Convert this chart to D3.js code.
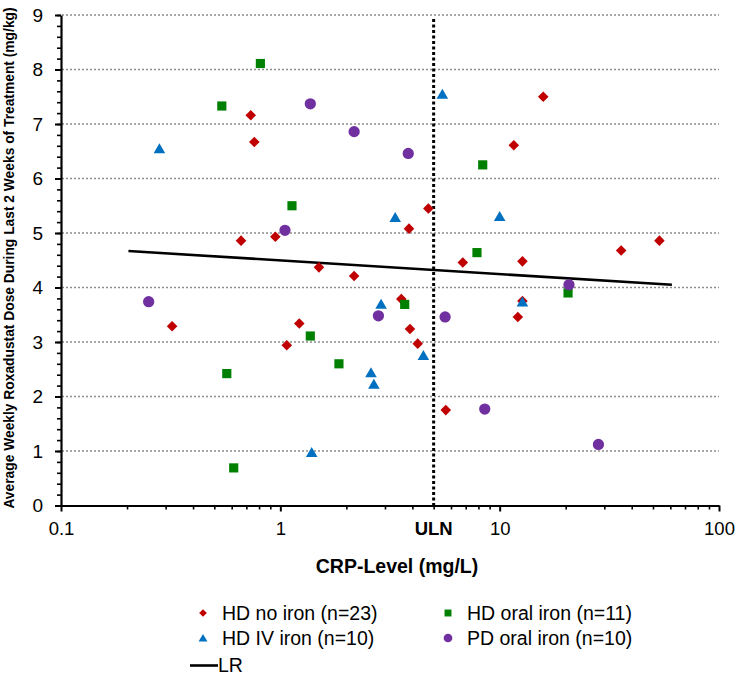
<!DOCTYPE html>
<html><head><meta charset="utf-8">
<script src="https://cdn.jsdelivr.net/npm/d3@7"></script>
<style>body{margin:0;background:#fff}svg{display:block;font-family:Arial,"Liberation Sans",sans-serif}</style>
</head><body><svg id="c" width="737" height="675"></svg>
<script>
// ---- data ----
const hdNoIronX = [0.733,0.761,0.662,0.949,0.321,1.07,1.22,1.50,2.17,4.73,3.86,15.8,11.6,35.8,53.5,3.56,3.90,4.23,5.68,12.1,12.7,6.79,12.7];
const hdNoIronY = [7.16,6.67,4.86,4.93,3.29,2.94,3.34,4.37,4.21,5.45,5.08,7.50,6.61,4.68,4.86,3.79,3.24,2.97,1.75,3.46,3.75,4.46,4.48];
const hdOralX = [0.541,0.811,1.13,0.570,0.613,1.37,1.85,8.37,7.88,3.69,20.5];
const hdOralY = [7.33,8.11,5.50,2.42,0.69,3.11,2.60,6.25,4.64,3.69,3.90];
const hdIVX = [0.281,5.48,3.34,10.0,1.39,2.88,4.49,2.59,2.67,12.7];
const hdIVY = [6.55,7.55,5.29,5.31,0.98,3.70,2.76,2.44,2.23,3.74];
const pdOralX = [1.37,2.17,1.05,0.251,3.83,2.80,5.64,8.55,28.2,20.7];
const pdOralY = [7.37,6.86,5.05,3.74,6.46,3.48,3.46,1.77,1.12,4.05];
const lrX = [0.203, 61.0];
const lrY = [4.67, 4.05];
const ulnValue = 5;
const xTickValues = [0.1, 1, 10, 100];
const xTickLabels = ["0.1", "1", "10", "100"];
const yTickValues = [0,1,2,3,4,5,6,7,8,9];
const seriesNames = ["HD no iron (n=23)", "HD oral iron (n=11)", "HD IV iron (n=10)", "PD oral iron (n=10)"];
const yTitle = "Average Weekly Roxadustat Dose During Last 2 Weeks of Treatment  (mg/kg)";
const xTitle = "CRP-Level (mg/L)";

// ---- chart ----
const FONT = "Arial,'Liberation Sans',sans-serif";
const svg = d3.select("#c");
const x = d3.scaleLog().domain([0.1, 100]).range([61, 719]);
const y = d3.scaleLinear().domain([0, 9]).range([505.5, 15]);

// gridlines
svg.append("g").selectAll("line").data(yTickValues.filter(v => v > 0)).join("line")
  .attr("x1", 62).attr("x2", 719).attr("y1", d => y(d)).attr("y2", d => y(d))
  .attr("stroke", "#8c8c8c").attr("stroke-width", 1.6).attr("stroke-dasharray", "2,2");

// ULN line
svg.append("line").attr("x1", x(ulnValue)).attr("x2", x(ulnValue))
  .attr("y1", y(9) + 4).attr("y2", y(0))
  .attr("stroke", "#000").attr("stroke-width", 3).attr("stroke-dasharray", "3,2.5");

// y axis minor ticks
const minorY = d3.range(0, 9.001, 0.2).map(v => +v.toFixed(1));
svg.append("g").attr("transform", "translate(61,0)")
  .call(d3.axisLeft(y).tickValues(minorY).tickSize(4).tickSizeOuter(0).tickFormat(""))
  .call(g => g.select(".domain").remove())
  .call(g => g.selectAll("line").attr("stroke", "#000").attr("stroke-width", 1.6));
// y axis major
svg.append("g").attr("transform", "translate(61,0)")
  .call(d3.axisLeft(y).tickValues(yTickValues).tickSize(6).tickSizeOuter(0).tickPadding(12).tickFormat(d3.format("d")))
  .call(g => g.select(".domain").attr("stroke", "#000").attr("stroke-width", 2.2))
  .call(g => g.selectAll("line").attr("stroke", "#000").attr("stroke-width", 2))
  .call(g => g.selectAll("text").attr("font-size", 19).attr("fill", "#000").attr("font-family", FONT));

// x axis minor ticks
const minorX = [];
[0.1, 1, 10].forEach(dec => { for (let k = 2; k <= 9; k++) minorX.push(+(dec * k).toPrecision(3)); });
svg.append("g").attr("transform", "translate(0,505.5)")
  .call(d3.axisBottom(x).tickValues(minorX).tickSize(4).tickSizeOuter(0).tickFormat(""))
  .call(g => g.select(".domain").remove())
  .call(g => g.selectAll("line").attr("stroke", "#000").attr("stroke-width", 1.6));
svg.append("g").attr("transform", "translate(0,505.5)")
  .call(d3.axisBottom(x).tickValues(xTickValues).tickSize(6).tickSizeOuter(0).tickPadding(10)
    .tickFormat((d, i) => xTickLabels[i]))
  .call(g => g.select(".domain").attr("stroke", "#000").attr("stroke-width", 2.2))
  .call(g => g.selectAll("line").attr("stroke", "#000").attr("stroke-width", 2))
  .call(g => g.selectAll("text").attr("font-size", 18.5).attr("fill", "#000").attr("font-family", FONT));

// ULN label
svg.append("text").attr("x", x(ulnValue)).attr("y", 535).attr("text-anchor", "middle")
  .attr("font-size", 18.5).attr("font-weight", "bold").text("ULN");

// titles
svg.append("text").attr("x", 397).attr("y", 573).attr("text-anchor", "middle")
  .attr("font-size", 19.5).attr("font-weight", "bold").text(xTitle);
svg.append("text").attr("transform", "translate(14,258) rotate(-90)").attr("text-anchor", "middle")
  .attr("font-size", 13.8).attr("font-weight", "bold").text(yTitle);

// LR line
const lrData = lrX.map((v, i) => [v, lrY[i]]);
svg.append("path").datum(lrData)
  .attr("d", d3.line().x(d => x(d[0])).y(d => y(d[1])))
  .attr("stroke", "#000").attr("stroke-width", 2.6).attr("fill", "none");

// markers
const colors = ["#C00000", "#008000", "#0070C0", "#7030A0"];
const symbols = [
  { type: d3.symbolSquare, size: 56, rot: 45, dy: 0 },
  { type: d3.symbolSquare, size: 84, rot: 0, dy: 0 },
  { type: d3.symbolTriangle, size: 58, rot: 0, dy: 1.5 },
  { type: d3.symbolCircle, size: 100, rot: 0, dy: 0 }
];
const seriesX = [hdNoIronX, hdOralX, hdIVX, pdOralX];
const seriesY = [hdNoIronY, hdOralY, hdIVY, pdOralY];
seriesX.forEach((xs, s) => {
  const pts = xs.map((v, i) => [v, seriesY[s][i]]);
  svg.append("g").selectAll("path").data(pts).join("path")
    .attr("d", d3.symbol().type(symbols[s].type).size(symbols[s].size))
    .attr("transform", d => `translate(${x(d[0])},${y(d[1]) + symbols[s].dy}) rotate(${symbols[s].rot})`)
    .attr("fill", colors[s]);
});

// legend
const legendPos = [[203, 613], [448, 613], [203, 638], [448, 638]];
const legendSize = [30, 48, 34, 60];
seriesNames.forEach((name, s) => {
  const [lx, ly] = legendPos[s];
  svg.append("path")
    .attr("d", d3.symbol().type(symbols[s].type).size(legendSize[s]))
    .attr("transform", `translate(${lx},${ly + (s === 2 ? 1 : 0)}) rotate(${symbols[s].rot})`)
    .attr("fill", colors[s]);
  svg.append("text").attr("x", lx + 19).attr("y", ly + 6.5).attr("font-size", 19.5).attr("fill", "#000").text(name);
});
svg.append("line").attr("x1", 190).attr("x2", 218).attr("y1", 665.5).attr("y2", 665.5)
  .attr("stroke", "#000").attr("stroke-width", 2.6);
svg.append("text").attr("x", 218).attr("y", 672).attr("font-size", 19.5).attr("fill", "#000").text("LR");
</script></body></html>
